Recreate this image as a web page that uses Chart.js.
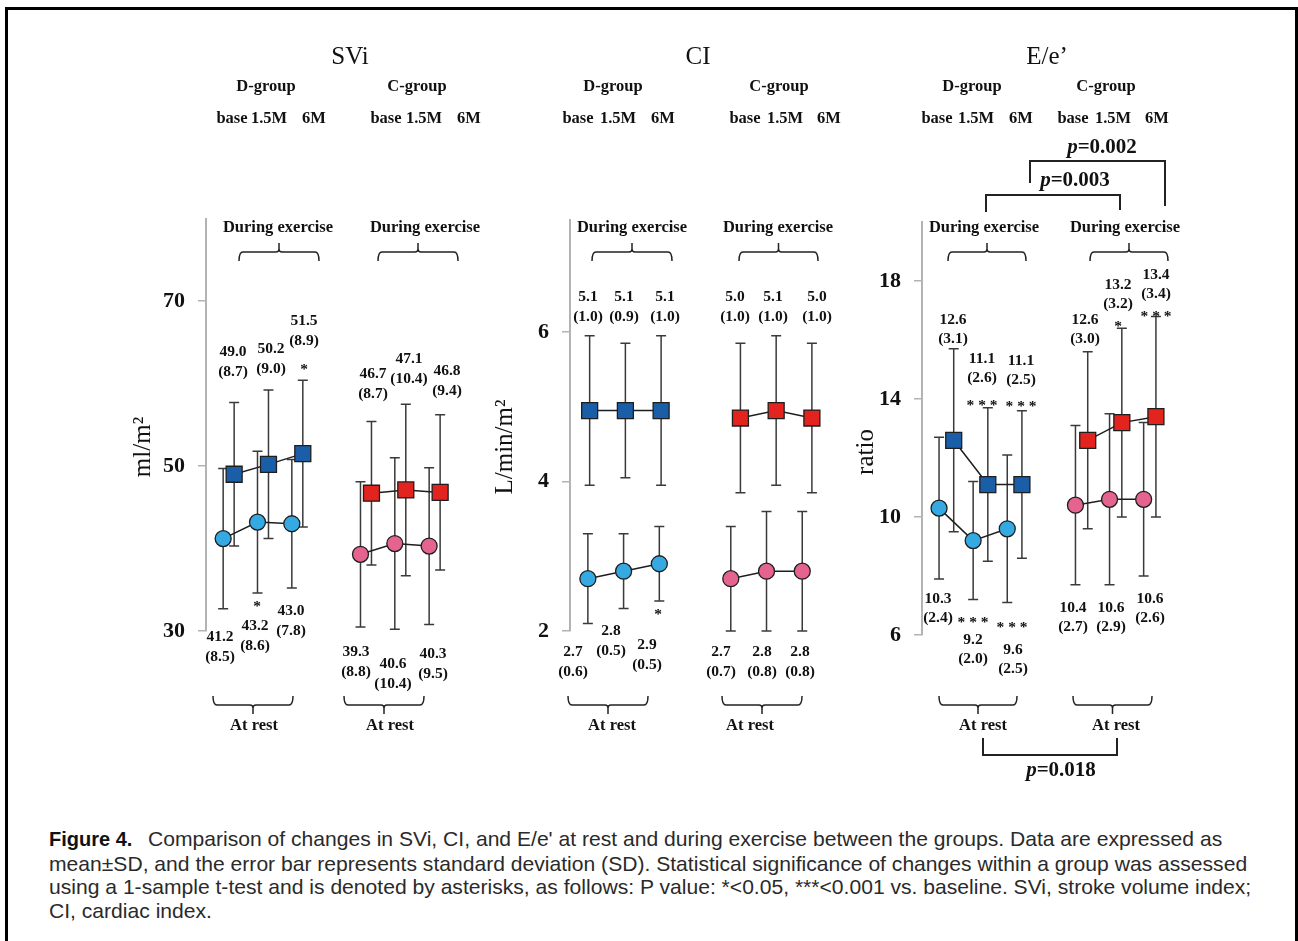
<!doctype html>
<html>
<head>
<meta charset="utf-8">
<title>Figure 4</title>
<script src="https://cdn.jsdelivr.net/npm/chart.js@4.4.1/dist/chart.umd.min.js"></script>
<style>
    body { margin: 0; background: #fff; width: 1298px; height: 941px; overflow: hidden; position: relative; }
    #frame { position: absolute; left: 5px; top: 7px; width: 1293px; height: 1000px; border: 3px solid #000; box-sizing: border-box; }
    canvas.panel { position: absolute; left: 0; top: 0; }
    #caption { position: absolute; left: 49px; top: 827px; font-family: "Liberation Sans", Arial, sans-serif;
               font-size: 21.1px; line-height: 23.7px; color: #2a2a2a; white-space: nowrap; }
    #caption b { display: inline-block; width: 99px; font-family: "Liberation Sans Narrow", "Liberation Sans", Arial, sans-serif;
                 font-weight: bold; font-size: 20px; color: #111; }
</style>
</head>
<body>
<div id="frame"></div>
<canvas id="svi" class="panel" width="1298" height="800"></canvas>
<canvas id="ci" class="panel" width="1298" height="800"></canvas>
<canvas id="ee" class="panel" width="1298" height="800"></canvas>
<div id="caption">
<b>Figure 4.</b>Comparison of changes in SVi, CI, and E/e' at rest and during exercise between the groups. Data are expressed as<br>
mean±SD, and the error bar represents standard deviation (SD). Statistical significance of changes within a group was assessed<br>
using a 1-sample t-test and is denoted by asterisks, as follows: P value: *&lt;0.05, ***&lt;0.001 vs. baseline. SVi, stroke volume index;<br>
CI, cardiac index.
</div>

<script>
// ---- data ----
var timeLabels = ["base", "1.5M", "6M"];
var groupLabels = ["D-group", "C-group"];

// SVi (ml/m2)
var sviDRest = [41.2, 43.2, 43.0], sviDRestSd = [8.5, 8.6, 7.8];
var sviDEx   = [49.0, 50.2, 51.5], sviDExSd   = [8.7, 9.0, 8.9];
var sviCRest = [39.3, 40.6, 40.3], sviCRestSd = [8.8, 10.4, 9.5];
var sviCEx   = [46.7, 47.1, 46.8], sviCExSd   = [8.7, 10.4, 9.4];
var sviStars = { dRest: ["", "*", ""], dEx: ["", "", "*"], cRest: ["", "", ""], cEx: ["", "", ""] };

// CI (L/min/m2) - squares sit a bit below the printed means in the figure
var ciDRest = [2.7, 2.8, 2.9],    ciDRestSd = [0.6, 0.5, 0.5];
var ciDEx   = [4.95, 4.95, 4.95], ciDExSd   = [1.0, 0.9, 1.0];
var ciCRest = [2.7, 2.8, 2.8],    ciCRestSd = [0.7, 0.8, 0.8];
var ciCEx   = [4.85, 4.95, 4.85], ciCExSd   = [1.0, 1.0, 1.0];
var ciDExPrinted = [5.1, 5.1, 5.1];
var ciCExPrinted = [5.0, 5.1, 5.0];
var ciStars = { dRest: ["", "", "*"], dEx: ["", "", ""], cRest: ["", "", ""], cEx: ["", "", ""] };

// E/e' (ratio)
var eeDRest = [10.3, 9.2, 9.6],   eeDRestSd = [2.4, 2.0, 2.5];
var eeDEx   = [12.6, 11.1, 11.1], eeDExSd   = [3.1, 2.6, 2.5];
var eeCRest = [10.4, 10.6, 10.6], eeCRestSd = [2.7, 2.9, 2.6];
var eeCEx   = [12.6, 13.2, 13.4], eeCExSd   = [3.0, 3.2, 3.4];
var eeStars = { dRest: ["", "***", "***"], dEx: ["", "***", "***"], cRest: ["", "", ""], cEx: ["", "*", "***"] };

var pValues = ["0.002", "0.003", "0.018"];

// ---- layout / style ----
var X_MIN = 0.5, X_MAX = 8;
var SERIF = '"Liberation Serif", "Times New Roman", serif';
var COLORS = { dRest: "#35a9e1", dEx: "#1a5ea8", cRest: "#e4638f", cEx: "#e3231d" };

var LAYOUT = {
    svi: {
        axisX: 206, unit: 34.33, top: 218.5, bottom: 631, yMin: 30, yMax: 80, ticks: [30, 50, 70],
        offsets: [0.32, 0.32], lineGap: 19.5,
        title: ["SVi", 350, 57], groups: [266, 417], times: [[232, 269, 314], [386, 424, 469]],
        exText: [278, 425], exBrace: [[239, 319], [378, 458]],
        restBrace: [[213, 293], [344, 424]], restText: [254, 390],
        yTitle: ["ml/m\u00b2", 143, 447],
        labels: {
            dRest: [[220, 637], [255, 626], [291, 611]],
            dEx: [[233, 352], [271, 349], [304, 321]],
            cRest: [[356, 652], [393, 664], [433, 654]],
            cEx: [[373, 374], [409, 359], [447, 371]]
        },
        stars: { dRest: [null, [257, 603], null], dEx: [null, null, [304, 366]] }
    },
    ci: {
        axisX: 570, unit: 35.73, top: 220, bottom: 631, yMin: 2, yMax: 7.5, ticks: [2, 4, 6],
        offsets: [0.05, 0.27], lineGap: 19.5,
        title: ["CI", 698, 57], groups: [613, 779], times: [[578, 618, 663], [745, 785, 829]],
        exText: [632, 778], exBrace: [[592, 672], [739, 818]],
        restBrace: [[568, 648], [722, 802]], restText: [612, 750],
        yTitle: ["L/min/m\u00b2", 505, 447],
        labels: {
            dRest: [[573, 652], [611, 631], [647, 645]],
            dEx: [[588, 297], [624, 297], [665, 297]],
            cRest: [[721, 652], [762, 652], [800, 652]],
            cEx: [[735, 297], [773, 297], [817, 297]]
        },
        stars: { dRest: [null, null, [658, 611]] }
    },
    ee: {
        axisX: 922, unit: 34.1, top: 222, bottom: 635, yMin: 6, yMax: 20, ticks: [6, 10, 14, 18],
        offsets: [0.43, 0.36], lineGap: 19,
        title: ["E/e\u2019", 1047, 57], groups: [972, 1106], times: [[937, 976, 1021], [1073, 1113, 1157]],
        exText: [984, 1125], exBrace: [[948, 1026], [1090, 1168]],
        restBrace: [[939, 1017], [1073, 1152]], restText: [983, 1116],
        yTitle: ["ratio", 866, 452],
        labels: {
            dRest: [[938, 599], [973, 640], [1013, 650]],
            dEx: [[953, 320], [982, 359], [1021, 361]],
            cRest: [[1073, 608], [1111, 608], [1150, 599]],
            cEx: [[1085, 320], [1118, 285], [1156, 275]]
        },
        stars: { dRest: [null, [973, 619], [1012, 624]], dEx: [null, [982, 402], [1021, 403]],
                 cEx: [null, [1118, 323], [1156, 313]] },
        pBrackets: true
    }
};

function text(ctx, s, x, y, font, align) {
    ctx.font = font;
    ctx.textAlign = align || "center";
    ctx.textBaseline = "middle";
    ctx.fillText(s, x, y);
}

// brace under/over a group; dir = 1 opens downward (tip up), -1 opens upward (tip down)
function brace(ctx, x1, x2, yLine, dir) {
    var xm = (x1 + x2) / 2, end = yLine + 9 * dir, tip = yLine - 9 * dir, r = 4;
    ctx.beginPath();
    ctx.moveTo(x1, end);
    ctx.quadraticCurveTo(x1, yLine, x1 + r, yLine);
    ctx.lineTo(xm - 3, yLine);
    ctx.quadraticCurveTo(xm, yLine, xm, yLine - 3 * dir);
    ctx.lineTo(xm, tip);
    ctx.moveTo(xm, yLine - 3 * dir);
    ctx.quadraticCurveTo(xm, yLine, xm + 3, yLine);
    ctx.lineTo(x2 - r, yLine);
    ctx.quadraticCurveTo(x2, yLine, x2, end);
    ctx.stroke();
}

function pLabel(ctx, value, x, y) {
    var fi = "italic bold 21px " + SERIF, fb = "bold 21px " + SERIF;
    ctx.font = fi; var wa = ctx.measureText("p").width;
    ctx.font = fb; var wb = ctx.measureText("=" + value).width;
    var left = x - (wa + wb) / 2;
    text(ctx, "p", left, y, fi, "left");
    text(ctx, "=" + value, left + wa, y, fb, "left");
}

var errorBars = {
    id: "errorBars",
    beforeDatasetsDraw: function (chart) {
        var ctx = chart.ctx, xs = chart.scales.x, ys = chart.scales.y;
        ctx.save();
        ctx.strokeStyle = "#3a3a3a";
        ctx.lineWidth = 1.5;
        chart.data.datasets.forEach(function (ds) {
            ds.data.forEach(function (p, i) {
                var x = xs.getPixelForValue(p.x);
                var lo = ys.getPixelForValue(p.y - ds.sd[i]);
                var hi = ys.getPixelForValue(p.y + ds.sd[i]);
                ctx.beginPath();
                ctx.moveTo(x, lo); ctx.lineTo(x, hi);
                ctx.moveTo(x - 5, lo); ctx.lineTo(x + 5, lo);
                ctx.moveTo(x - 5, hi); ctx.lineTo(x + 5, hi);
                ctx.stroke();
            });
        });
        ctx.restore();
    }
};

function notesPlugin(L, series) {
    return {
        id: "notes",
        afterDraw: function (chart) {
            var ctx = chart.ctx;
            var hb = "bold 16.5px " + SERIF, nb = "bold 15.5px " + SERIF;
            ctx.save();
            ctx.fillStyle = "#111";
            ctx.strokeStyle = "#222";
            ctx.lineWidth = 1.5;

            text(ctx, L.title[0], L.title[1], L.title[2], "25px " + SERIF);
            [0, 1].forEach(function (g) {
                text(ctx, groupLabels[g], L.groups[g], 87, hb);
                timeLabels.forEach(function (t, i) { text(ctx, t, L.times[g][i], 119, hb); });
                text(ctx, "During exercise", L.exText[g], 228, hb);
                brace(ctx, L.exBrace[g][0], L.exBrace[g][1], 252, 1);
                brace(ctx, L.restBrace[g][0], L.restBrace[g][1], 705, -1);
                text(ctx, "At rest", L.restText[g], 726, hb);
            });

            // axis title
            ctx.save();
            ctx.translate(L.yTitle[1], L.yTitle[2]);
            ctx.rotate(-Math.PI / 2);
            text(ctx, L.yTitle[0], 0, 0, "25px " + SERIF);
            ctx.restore();

            // value labels: mean and (SD), plus significance marks
            series.forEach(function (s) {
                s.mean.forEach(function (m, i) {
                    var pos = L.labels[s.key][i];
                    var shown = s.printed ? s.printed[i] : m;
                    text(ctx, shown.toFixed(1), pos[0], pos[1], nb);
                    text(ctx, "(" + s.sd[i].toFixed(1) + ")", pos[0], pos[1] + L.lineGap, nb);
                    var st = s.stars[i];
                    if (st) {
                        var sp = L.stars[s.key][i];
                        text(ctx, st.split("").join(" "), sp[0], sp[1] + 4, nb);
                    }
                });
            });

            if (L.pBrackets) {
                ctx.lineWidth = 2;
                ctx.beginPath();
                ctx.moveTo(1030, 183); ctx.lineTo(1030, 161); ctx.lineTo(1165, 161); ctx.lineTo(1165, 206);
                ctx.moveTo(986, 212); ctx.lineTo(986, 195); ctx.lineTo(1120, 195); ctx.lineTo(1120, 210);
                ctx.moveTo(983, 738); ctx.lineTo(983, 755); ctx.lineTo(1117, 755); ctx.lineTo(1117, 738);
                ctx.stroke();
                pLabel(ctx, pValues[0], 1102, 148);
                pLabel(ctx, pValues[1], 1075, 181);
                pLabel(ctx, pValues[2], 1061, 771);
            }
            ctx.restore();
        }
    };
}

function makePanel(id, L, series) {
    var datasets = series.map(function (s) {
        var isEx = s.key === "dEx" || s.key === "cEx";
        var isD = s.key.charAt(0) === "d";
        var base = isD ? 1 : 5;
        var off = isEx ? L.offsets[isD ? 0 : 1] : 0;
        return {
            data: s.mean.map(function (v, i) { return { x: base + i + off, y: v }; }),
            sd: s.sd,
            showLine: true,
            borderColor: "#1e1e1e",
            borderWidth: 1.5,
            pointStyle: isEx ? "rect" : "circle",
            pointRadius: isEx ? 11.3 : 8,
            pointBackgroundColor: COLORS[s.key],
            pointBorderColor: "#1e1e1e",
            pointBorderWidth: 1.3
        };
    });
    var right = L.axisX + (X_MAX - X_MIN) * L.unit;
    new Chart(document.getElementById(id), {
        type: "line",
        data: { datasets: datasets },
        options: {
            responsive: false,
            animation: false,
            events: [],
            layout: { padding: { left: L.axisX - 60, right: 1298 - right, top: L.top, bottom: 800 - L.bottom } },
            plugins: { legend: { display: false }, tooltip: { enabled: false } },
            scales: {
                x: { type: "linear", display: false, min: X_MIN, max: X_MAX },
                y: {
                    min: L.yMin, max: L.yMax,
                    afterFit: function (s) { s.width = 60; },
                    afterBuildTicks: function (s) { s.ticks = L.ticks.map(function (v) { return { value: v }; }); },
                    grid: { drawOnChartArea: false, drawTicks: true, tickLength: 8, color: "#b3b3b3", lineWidth: 1.5 },
                    border: { display: true, color: "#b3b3b3", width: 2 },
                    ticks: { color: "#111", padding: 13, font: { family: SERIF, size: 22, weight: "bold" } }
                }
            }
        },
        plugins: [errorBars, notesPlugin(L, series)]
    });
}

makePanel("svi", LAYOUT.svi, [
    { key: "dRest", mean: sviDRest, sd: sviDRestSd, stars: sviStars.dRest },
    { key: "dEx", mean: sviDEx, sd: sviDExSd, stars: sviStars.dEx },
    { key: "cRest", mean: sviCRest, sd: sviCRestSd, stars: sviStars.cRest },
    { key: "cEx", mean: sviCEx, sd: sviCExSd, stars: sviStars.cEx }
]);
makePanel("ci", LAYOUT.ci, [
    { key: "dRest", mean: ciDRest, sd: ciDRestSd, stars: ciStars.dRest },
    { key: "dEx", mean: ciDEx, sd: ciDExSd, stars: ciStars.dEx, printed: ciDExPrinted },
    { key: "cRest", mean: ciCRest, sd: ciCRestSd, stars: ciStars.cRest },
    { key: "cEx", mean: ciCEx, sd: ciCExSd, stars: ciStars.cEx, printed: ciCExPrinted }
]);
makePanel("ee", LAYOUT.ee, [
    { key: "dRest", mean: eeDRest, sd: eeDRestSd, stars: eeStars.dRest },
    { key: "dEx", mean: eeDEx, sd: eeDExSd, stars: eeStars.dEx },
    { key: "cRest", mean: eeCRest, sd: eeCRestSd, stars: eeStars.cRest },
    { key: "cEx", mean: eeCEx, sd: eeCExSd, stars: eeStars.cEx }
]);
</script>
</body>
</html>
